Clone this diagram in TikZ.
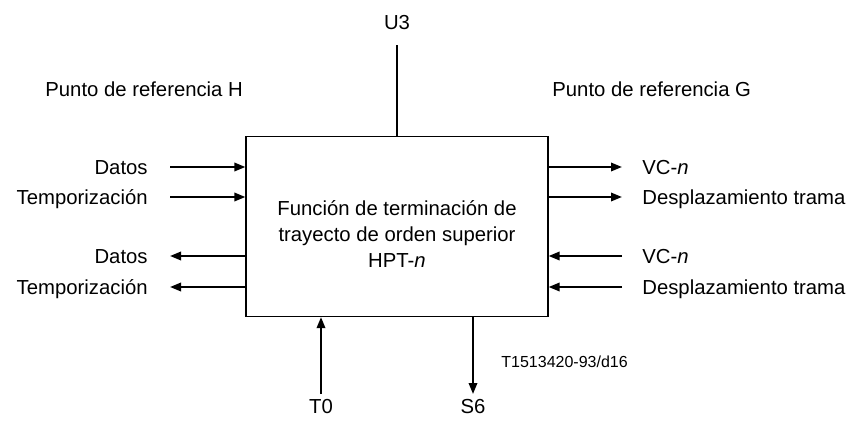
\documentclass[tikz,border=0pt]{standalone}
\usepackage{fontspec}
\setmainfont{Liberation Sans}
\usetikzlibrary{arrows.meta}
\tikzset{
  fblock/.style={draw=black, line width=0.6pt, minimum width=151pt, minimum height=90pt, align=center, inner sep=0pt, font=\fontsize{10.15}{13}\selectfont},
  sig/.style={-{Triangle[length=5.5pt,width=4.2pt]}, line width=1pt},
  wire/.style={line width=1pt},
  lbl/.style={inner sep=0pt, font=\fontsize{10.15}{13}\selectfont},
  note/.style={inner sep=0pt, font=\fontsize{8}{10}\selectfont}
}
\begin{document}
\begin{tikzpicture}[x=0.5pt, y=-0.5pt]
    \useasboundingbox (0,0) rectangle (848,423);
    \node[fblock] (hpt) at (397,226.5) {\rule{0pt}{14.5pt}Función de terminación de\\trayecto de orden superior\\HPT-\textit{n}};
    % reference points
    \node[lbl, anchor=base west] (refH) at (45,97) {Punto de referencia H};
    \node[lbl, anchor=base west] (refG) at (552,97) {Punto de referencia G};
    % left side (H)
    \node[lbl, anchor=base east] (datosIn) at (148,174) {Datos};
    \node[lbl, anchor=base east] (tempIn) at (148,204) {Temporización};
    \node[lbl, anchor=base east] (datosOut) at (148,263) {Datos};
    \node[lbl, anchor=base east] (tempOut) at (148,294) {Temporización};
    \coordinate (hIn1) at (170,167);
    \coordinate (hIn2) at (170,197);
    \coordinate (hOut1) at (170,256);
    \coordinate (hOut2) at (170,287);
    \draw[sig] (hIn1) -- (hIn1 -| hpt.west);
    \draw[sig] (hIn2) -- (hIn2 -| hpt.west);
    \draw[sig] (hOut1 -| hpt.west) -- (hOut1);
    \draw[sig] (hOut2 -| hpt.west) -- (hOut2);
    % right side (G)
    \node[lbl, anchor=base west] (vcOut) at (642,174) {VC-\textit{n}};
    \node[lbl, anchor=base west] (despOut) at (642,204) {Desplazamiento trama};
    \node[lbl, anchor=base west] (vcIn) at (642,263) {VC-\textit{n}};
    \node[lbl, anchor=base west] (despIn) at (642,294) {Desplazamiento trama};
    \coordinate (gOut1) at (622,167);
    \coordinate (gOut2) at (622,197);
    \coordinate (gIn1) at (622,256);
    \coordinate (gIn2) at (622,287);
    \draw[sig] (gOut1 -| hpt.east) -- (gOut1);
    \draw[sig] (gOut2 -| hpt.east) -- (gOut2);
    \draw[sig] (gIn1) -- (gIn1 -| hpt.east);
    \draw[sig] (gIn2) -- (gIn2 -| hpt.east);
    % top and bottom
    \node[lbl, anchor=base] (u3) at (397,29) {U3};
    \coordinate (u3end) at (397,45);
    \draw[wire] (u3end) -- (hpt.north);
    \node[lbl, anchor=base] (t0) at (321,413) {T0};
    \node[lbl, anchor=base] (s6) at (473,413) {S6};
    \coordinate (t0end) at (321,394);
    \coordinate (s6end) at (473,394);
    \draw[sig] (t0end) -- (t0end |- hpt.south);
    \draw[sig] (s6end |- hpt.south) -- (s6end);
    \node[note, anchor=base west] (figref) at (501,367) {T1513420-93/d16};
  \end{tikzpicture}
\end{document}
